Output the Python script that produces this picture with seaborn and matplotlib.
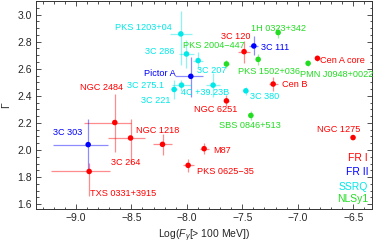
import numpy as np
import pandas as pd
import matplotlib
matplotlib.use("Agg")
import matplotlib.pyplot as plt
from matplotlib.ticker import MultipleLocator
import seaborn as sns

# ---------------- data ----------------
names = ["NGC 2484", "3C 264", "NGC 1218", "TXS 0331+3915", "PKS 0625\u221235", "M87",
         "NGC 6251", "3C 120", "Cen B", "Cen A core", "NGC 1275",
         "3C 303", "Pictor A", "3C 111",
         "PKS 1203+04", "3C 286", "3C 207", "3C 275.1", "3C 221", "4C +39.23B", "3C 380",
         "1H 0323+342", "PKS 2004\u2212447", "PKS 1502+036", "PMN J0948+0022", "SBS 0846+513"]
classes = ["FR I"] * 11 + ["FR II"] * 3 + ["SSRQ"] * 7 + ["NLSy1"] * 5
logF = [-8.649, -8.507, -8.219, -8.880, -7.988, -7.844, -7.643, -7.484, -7.222, -6.823, -6.502,
        -8.889, -7.964, -7.396,
        -8.054, -8.003, -7.898, -8.048, -8.114, -7.763, -7.468,
        -7.177, -7.643, -7.357, -6.907, -7.423]
gamma = [2.203, 2.089, 2.042, 1.842, 1.887, 2.010, 2.363, 2.726, 2.487, 2.677, 2.092,
         2.040, 2.544, 2.768,
         2.857, 2.709, 2.660, 2.479, 2.447, 2.479, 2.437,
         2.867, 2.635, 2.669, 2.640, 2.255]
x_err_lo = [0.28, 0.20, 0.083, 0.34, 0.05, 0.04, 0.02, 0.055, 0.04, 0.02, 0.01,
            0.32, 0.144, 0.04,
            0.10, 0.07, 0.045, 0.09, 0.03, 0.06, 0.02,
            0.02, 0.02, 0.02, 0.015, 0.015]
x_err_hi = [0.15, 0.13, 0.083, 0.186, 0.05, 0.04, 0.02, 0.055, 0.04, 0.02, 0.01,
            0.18, 0.111, 0.04,
            0.10, 0.07, 0.045, 0.09, 0.03, 0.06, 0.02,
            0.02, 0.02, 0.02, 0.015, 0.015]
y_err_lo = [0.22, 0.19, 0.08, 0.18, 0.05, 0.04, 0.04, 0.08, 0.05, 0.02, 0.01,
            0.20, 0.154, 0.07,
            0.23, 0.10, 0.06, 0.04, 0.07, 0.09, 0.03,
            0.04, 0.03, 0.04, 0.02, 0.03]
y_err_hi = [0.21, 0.14, 0.08, 0.06, 0.05, 0.04, 0.04, 0.08, 0.05, 0.02, 0.01,
            0.19, 0.146, 0.07,
            0.17, 0.10, 0.06, 0.04, 0.07, 0.09, 0.03,
            0.04, 0.03, 0.04, 0.02, 0.03]
# label anchor (centre) in data coords
label_x = [-8.772, -8.547, -8.259, -8.578, -7.651, -7.678, -7.739, -7.563, -7.029, -6.595, -6.632,
           -9.077, -8.243, -7.205,
           -8.387, -8.248, -7.777, -8.369, -8.284, -7.838, -7.295,
           -7.173, -7.757, -7.263, -6.647, -7.432]
label_y = [2.462, 1.909, 2.146, 1.681, 1.842, 1.993, 2.299, 2.840, 2.484, 2.662, 2.153,
           2.129, 2.568, 2.756,
           2.904, 2.724, 2.585, 2.474, 2.363, 2.422, 2.393,
           2.894, 2.770, 2.578, 2.556, 2.183]
class_order = ["FR I", "FR II", "SSRQ", "NLSy1"]
class_colors = {"FR I": "#ff0000", "FR II": "#0000ff", "SSRQ": "#00e8e8", "NLSy1": "#22dd22"}

df = pd.DataFrame({"name": names, "cls": classes, "x": logF, "y": gamma,
                   "xl": x_err_lo, "xh": x_err_hi, "yl": y_err_lo, "yh": y_err_hi,
                   "lx": label_x, "ly": label_y})

# ---------------- plot ----------------
sns.set_style("ticks")
plt.rcParams["font.family"] = ["Liberation Sans", "DejaVu Sans"]
plt.rcParams["mathtext.fontset"] = "custom"
plt.rcParams["mathtext.it"] = "Liberation Sans:italic"
plt.rcParams["mathtext.rm"] = "Liberation Sans"

fig = plt.figure(figsize=(3.74, 2.45), dpi=100)
ax = fig.add_axes([0.096, 0.147, 0.899, 0.849])

for cls in class_order:
    sub = df[df.cls == cls]
    ax.errorbar(sub.x, sub.y, xerr=[sub.xl, sub.xh], yerr=[sub.yl, sub.yh],
                fmt="none", ecolor=class_colors[cls], elinewidth=0.9, alpha=0.45,
                capsize=0, zorder=2)

sns.scatterplot(data=df, x="x", y="y", hue="cls", hue_order=class_order,
                palette=class_colors, s=16, edgecolor="none", legend=False,
                ax=ax, zorder=3)

for _, r in df.iterrows():
    ax.text(r.lx, r.ly, r["name"], color=class_colors[r.cls], fontsize=6.6,
            ha="center", va="center", zorder=4)

legend_y = [0.245, 0.179, 0.107, 0.048]
for cls, ly in zip(class_order, legend_y):
    ax.text(0.988, ly, cls, color=class_colors[cls], fontsize=7.5,
            ha="right", va="center", transform=ax.transAxes)

ax.set_xlim(-9.36, -6.33)
ax.set_ylim(1.565, 3.10)
ax.xaxis.set_major_locator(MultipleLocator(0.5))
ax.xaxis.set_minor_locator(MultipleLocator(0.1))
ax.yaxis.set_major_locator(MultipleLocator(0.2))
ax.yaxis.set_minor_locator(MultipleLocator(0.05))
ax.tick_params(which="both", direction="in", top=True, right=True, labelsize=7.5,
               color="#333333", width=0.6)
ax.tick_params(which="major", length=3.5, pad=3)
ax.tick_params(which="minor", length=1.8)
for sp in ax.spines.values():
    sp.set_visible(True)
    sp.set_linewidth(0.7)
    sp.set_color("#333333")

ax.set_xlabel(r"Log($F_\gamma$[> 100 MeV])", fontsize=7.5, labelpad=3)
ax.set_ylabel("\u0393", fontsize=7.5, labelpad=4)

fig.savefig("out.png", dpi=100)
